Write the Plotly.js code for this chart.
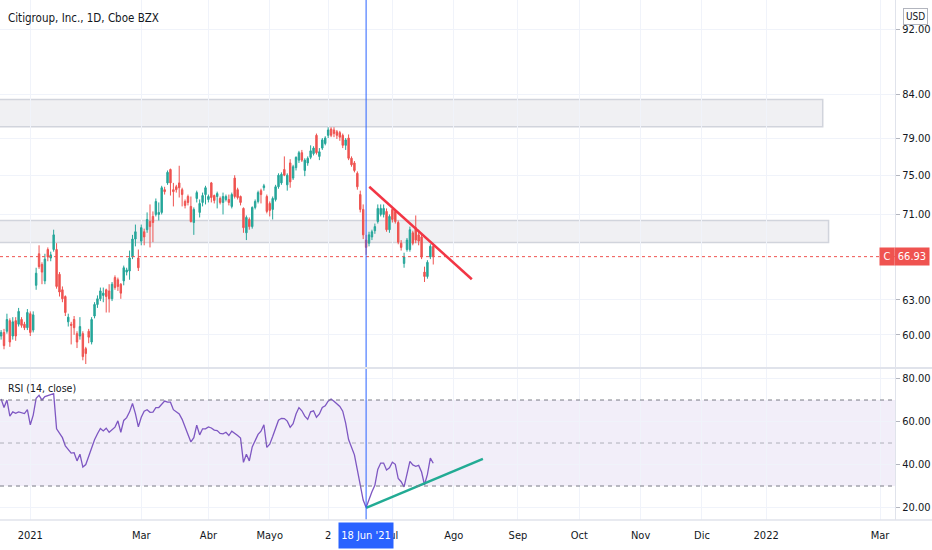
<!DOCTYPE html>
<html><head><meta charset="utf-8">
<script src="https://cdn.plot.ly/plotly-3.0.1.min.js"></script>
<style>html,body{margin:0;padding:0;background:#fff}</style>
</head><body><div id="chart" style="width:932px;height:550px"></div>
<script>
// ---------- data ----------
const firstSession = '2020-12-17';
const marketHolidays = ['2020-12-25','2021-01-01','2021-01-18','2021-02-15','2021-04-02','2021-05-31','2021-07-05','2021-09-06','2021-11-25','2021-12-24','2022-01-17','2022-02-21'];

const opens = [59.9,60.2,60.3,61.2,59.9,61.2,60.9,61.3,60.9,60.6,
61.8,60.4,64.3,67.2,66.2,64.7,67.6,66.8,67.6,67.6,
65.3,63.9,63.3,61.1,60.9,61.3,60.1,59.9,60.1,58.85,
60.3,59.4,61.6,62.6,63.1,63.4,63.9,63.8,63.1,65.0,
64.8,64.4,64.7,65.5,65.6,66.9,68.6,66.8,68.4,69.3,
69.5,70.3,70.8,71.0,71.0,71.2,73.5,74.2,75.6,73.5,
73.8,74.2,73.5,72.3,72.8,71.8,70.2,72.6,71.2,72.2,
73.0,72.5,74.2,72.9,72.8,72.6,72.2,72.5,72.5,71.8,
74.7,73.5,72.8,71.6,69.2,70.5,69.8,71.7,72.3,73.4,
73.7,72.8,72.1,71.5,72.5,73.8,74.2,75.6,74.0,76.3,
74.7,75.8,76.6,77.4,75.5,76.3,76.9,77.3,79.3,77.0,
77.9,78.4,79.3,80.0,79.9,79.7,79.6,79.3,78.2,79.0,
76.8,76.3,75.2,73.0,71.5,68.5,68.2,68.8,69.4,70.3,
71.0,71.0,71.3,69.5,71.5,71.3,70.2,68.2,66.3,67.6,
67.6,69.2,69.7,69.0,68.8,65.5,65.1,66.9,67.9];
const highs = [60.4,60.5,61.8,61.4,61.5,61.5,62.3,61.5,61.1,62.2,
62.0,62.0,65.9,68.0,66.4,67.2,67.8,67.4,69.5,68.2,
65.5,64.2,63.4,61.8,61.1,61.6,60.3,61.5,60.3,59.0,
60.5,61.5,62.8,63.4,64.1,64.1,64.0,64.4,64.6,65.2,
65.0,64.5,66.1,65.9,67.5,69.0,70.0,67.6,70.0,69.6,
71.2,72.0,71.3,72.6,72.2,73.9,73.8,75.5,75.7,74.2,
74.0,76.0,73.7,72.5,73.0,72.8,71.7,73.4,72.5,73.2,
73.9,73.0,74.3,73.0,73.3,72.8,73.2,73.0,73.0,73.2,
75.0,73.7,72.9,71.7,70.9,70.7,71.8,72.5,73.4,73.6,
74.1,73.0,72.3,72.8,74.0,75.2,75.3,77.0,75.2,76.7,
76.1,77.0,77.6,77.7,76.8,77.0,78.2,78.1,79.5,77.9,
79.0,79.2,80.2,80.2,80.2,79.9,79.8,79.5,79.0,79.4,
77.0,76.5,75.4,73.4,72.0,69.0,69.3,69.5,70.1,72.0,
72.0,72.0,71.6,71.0,71.6,71.5,70.4,68.5,67.3,68.7,
69.8,69.4,70.9,69.5,69.2,66.0,66.6,68.1,68.2];
const lows = [59.6,58.8,60.1,59.0,59.6,59.5,60.7,60.6,60.4,60.4,
59.9,60.2,63.9,65.8,64.4,64.4,66.5,66.5,67.4,64.0,
63.3,62.8,61.6,60.7,59.2,60.0,58.9,59.6,57.9,57.6,
59.3,59.2,61.4,62.3,62.9,62.8,61.9,61.9,62.9,63.9,
63.8,63.1,64.3,65.2,64.8,66.7,67.9,65.6,68.0,68.0,
69.2,67.8,68.3,70.8,70.4,71.0,73.0,74.0,72.9,71.8,
73.2,72.7,71.8,71.6,71.9,70.2,69.0,72.2,70.7,71.8,
72.0,72.2,72.2,72.1,71.6,72.0,71.0,72.3,71.9,71.6,
72.6,72.5,71.9,69.2,68.5,69.5,69.6,71.5,72.1,72.1,
73.4,71.1,70.8,70.5,72.3,73.6,74.0,74.9,73.4,73.7,
74.5,75.5,76.3,76.4,74.9,76.0,76.7,77.1,77.2,76.6,
77.7,78.2,79.0,79.1,79.1,78.9,78.7,77.9,77.7,76.6,
75.9,75.3,73.5,71.2,68.6,67.1,67.9,68.5,69.1,70.1,
70.8,70.7,69.3,69.2,70.2,70.1,68.1,67.5,65.9,67.4,
67.4,68.0,68.2,68.0,66.7,64.6,64.9,66.7,66.2];
const closes = [60.2,59.1,61.3,59.4,61.1,59.9,62.0,60.8,60.6,61.9,
60.2,61.7,65.4,66.0,65.5,66.7,66.9,67.1,69.0,64.2,
63.7,63.1,61.9,61.5,60.8,60.6,59.4,60.7,58.2,58.45,
59.8,61.3,62.6,63.1,63.8,63.6,63.3,63.1,64.4,64.1,
64.2,63.6,65.9,65.7,66.8,68.6,69.3,65.9,69.7,68.8,
70.5,69.8,70.2,72.3,71.2,73.7,73.3,75.3,74.2,73.3,
73.5,73.7,73.0,71.9,72.2,70.3,71.5,73.2,72.1,72.9,
73.7,72.8,72.7,72.4,73.1,72.2,72.8,72.8,72.2,73.0,
72.8,72.7,72.2,69.7,70.7,69.8,71.7,72.3,73.2,73.0,
73.9,71.3,71.4,72.6,73.8,75.0,75.1,75.0,75.0,74.3,
75.9,76.9,77.4,76.6,76.6,76.8,77.6,77.9,77.4,77.5,
78.8,79.0,79.9,79.3,79.5,79.3,79.1,78.2,78.8,76.8,
76.1,75.5,73.8,71.5,69.0,67.8,69.0,69.3,69.8,71.6,
71.6,71.6,69.5,70.8,70.5,70.3,68.3,67.8,66.9,68.5,
69.5,68.2,68.5,68.4,66.9,65.1,66.4,67.9,66.93];
const rsiValues = [70.5,66.5,70,62.5,64.5,63.8,64.5,64.1,63.7,65.5,
58.5,63,70.8,72.2,70,71.6,72,72.5,73,56.6,
54.5,52.5,48.7,47.2,45.3,45.5,41.7,44.8,38.8,40,
43.9,48.5,51.5,54.3,56.8,55.6,56.9,55,56.3,57.4,
60.3,55,60.5,61.8,64.5,68.4,63.7,57.5,62,64.8,
65.5,64.3,64.4,66.5,66.5,68,69.5,69,69,65.5,
64.3,63.5,61,57,54,50.5,52.5,58.3,53.8,56.6,
56.6,57.5,57,56,55.8,54.5,54.3,55,53.5,55.5,
54.6,53.5,52.3,41,44.8,41.7,48.2,51.5,54,55.5,
58.5,48,49.5,53,57,60.6,61.5,61.4,60.2,57.3,
59,63.5,66.5,65,62.5,61,64.5,65,62,63.5,
66.5,67.3,69.5,70.5,69.4,68.4,67,64.8,59.3,51.6,
48,44.5,37.5,30,23.5,20,24,27.3,30.3,37.7,
40.7,40.7,37.5,38.5,41.1,40.1,33.5,32,29.6,36,
41.5,39.8,39.2,39.6,36.5,30.6,35.4,43,40.6];

const priceTicks = [60,63,71,75,79,84,92];
const rsiTicks = [20,40,60,80];
const rsiLevels = [70,50,30];
const axisTickDates = ['2021-01-04','2021-03-01','2021-04-01','2021-05-03','2021-06-01','2021-07-01','2021-08-02','2021-09-01','2021-10-01','2021-11-01','2021-12-01','2022-01-03','2022-03-01'];
const axisTickLabels = ['2021','Mar','Abr','Mayo','2','Jul','Ago','Sep','Oct','Nov','Dic','2022','Mar'];

const zoneTops = [83.39, 70.39];
const zoneBottoms = [80.26, 68.26];
const zoneStarts = ['2020-12-01','2020-12-01'];
const zoneEnds = ['2022-01-31 09:00','2022-02-02 09:00'];

const resistanceX = ['2021-06-21 02:00','2021-08-10 05:00'];
const resistanceY = [73.8, 64.85];
const supportX = ['2021-06-18','2021-08-16'];
const supportY = [19.8, 42.6];
const crosshairDate = '2021-06-18';
const crosshairLabel = "18 Jun '21";
const xRange = ['2020-12-16 15:00','2022-03-08 03:00'];

// ---------- build ----------
function sessions(start, n, hol) {
  const out = []; const d = new Date(start + 'T00:00:00Z');
  while (out.length < n) {
    const s = d.toISOString().slice(0,10), wd = d.getUTCDay();
    if (wd !== 0 && wd !== 6 && hol.indexOf(s) < 0) out.push(s);
    d.setUTCDate(d.getUTCDate() + 1);
  }
  return out;
}
const dates = sessions(firstSession, closes.length, marketHolidays);
const lastClose = closes[closes.length - 1];

const FONT = '"Liberation Sans Narrow","DejaVu Sans Condensed","Roboto Condensed","Arial Narrow","Liberation Sans",sans-serif';
const UP = '#26a69a', DOWN = '#ef5350', TXT = '#131722', GRID = '#f0f3fa', BORDER = '#e0e3eb';

const traces = [];
traces.push({type:'scatter', mode:'lines', xaxis:'x', yaxis:'y',
  x:[xRange[0], xRange[1]], y:[lastClose, lastClose],
  line:{color:DOWN, width:1, dash:'dot'}, hoverinfo:'skip', showlegend:false});
traces.push({type:'candlestick', xaxis:'x', yaxis:'y', x:dates,
  open:opens, high:highs, low:lows, close:closes,
  increasing:{line:{color:UP, width:1}, fillcolor:UP},
  decreasing:{line:{color:DOWN, width:1}, fillcolor:DOWN},
  whiskerwidth:0, showlegend:false, hoverinfo:'skip'});
traces.push({type:'scatter', mode:'lines', xaxis:'x', yaxis:'y',
  x:resistanceX, y:resistanceY, line:{color:'#f23645', width:2.5}, hoverinfo:'skip', showlegend:false});
traces.push({type:'scatter', mode:'lines', xaxis:'x', yaxis:'y2',
  x:dates, y:rsiValues, line:{color:'#7e57c2', width:1.3}, hoverinfo:'skip', showlegend:false});
traces.push({type:'scatter', mode:'lines', xaxis:'x', yaxis:'y2',
  x:supportX, y:supportY, line:{color:'#22ab94', width:2.5}, hoverinfo:'skip', showlegend:false});

const splitFrac = 152/520;
const shapes = [];
for (let k = 0; k < zoneTops.length; k++) {
  shapes.push({type:'rect', xref:'x', yref:'y', x0:zoneStarts[k], x1:zoneEnds[k], y0:zoneBottoms[k], y1:zoneTops[k],
    fillcolor:'#f0f0f3', line:{color:'#d1d4dc', width:1.5}, layer:'below'});
}
shapes.push({type:'rect', xref:'paper', x0:0, x1:1, yref:'y2', y0:30, y1:70, fillcolor:'rgba(126,87,194,0.1)', line:{width:0}, layer:'below'});
rsiLevels.forEach((v,i) => shapes.push({type:'line', xref:'paper', x0:0, x1:1, yref:'y2', y0:v, y1:v,
  line:{color: i===1 ? 'rgba(120,123,134,0.55)' : '#787b86', width:1, dash:'4px,4px'}}));
shapes.push({type:'line', xref:'x', x0:crosshairDate, x1:crosshairDate, yref:'paper', y0:0, y1:1, line:{color:'#2962ff', width:1}});
shapes.push({type:'line', xref:'paper', x0:0, x1:1.05, yref:'paper', y0:splitFrac, y1:splitFrac, line:{color:BORDER, width:2}});
shapes.push({type:'line', xref:'paper', x0:0, x1:1.05, yref:'paper', y0:0, y1:0, line:{color:BORDER, width:1.5}});

const annotations = [
  {xref:'paper', yref:'paper', x:6/895, y:1-18/520, xanchor:'left', yanchor:'middle', showarrow:false,
   text:'Citigroup, Inc., 1D, Cboe BZX', font:{family:FONT, size:11.5, color:TXT}},
  {xref:'paper', yref:'paper', x:6/895, y:(520-388)/520, xanchor:'left', yanchor:'middle', showarrow:false,
   text:'RSI (14, close)', font:{family:FONT, size:10.5, color:TXT}},
  {xref:'paper', yref:'paper', x:915/895, y:(520-17)/520, xanchor:'center', yanchor:'middle', showarrow:false,
   text:'USD', font:{family:FONT, size:10, color:TXT}, bgcolor:'#ffffff', bordercolor:'#b2b5be', borderwidth:1, borderpad:2},
  {xref:'paper', yref:'y', x:886.7/895, y:Math.log10(lastClose), xanchor:'center', yanchor:'middle', showarrow:false,
   text:'C', width:12, height:15, font:{family:FONT, size:11, color:'#ffffff'}, bgcolor:DOWN, borderpad:1},
  {xref:'paper', yref:'y', x:912/895, y:Math.log10(lastClose), xanchor:'center', yanchor:'middle', showarrow:false,
   text:lastClose.toFixed(2), width:32, height:15, font:{family:FONT, size:11, color:'#ffffff'}, bgcolor:DOWN, borderpad:1},
  {xref:'x', yref:'paper', x:crosshairDate, y:-15.5/520, xanchor:'center', yanchor:'middle', showarrow:false,
   text:crosshairLabel, width:52, height:23, font:{family:FONT, size:11, color:'#ffffff'}, bgcolor:'#2962ff', borderpad:1}
];

const layout = {
  width:932, height:550, margin:{l:0, r:37, t:0, b:30},
  paper_bgcolor:'#ffffff', plot_bgcolor:'#ffffff', showlegend:false,
  font:{family:FONT, size:11, color:TXT},
  xaxis:{type:'date', range:xRange, anchor:'y2',
    rangebreaks:[{bounds:['sat','mon']}, {values:marketHolidays}],
    rangeslider:{visible:false}, tickmode:'array', tickvals:axisTickDates, ticktext:axisTickLabels,
    showgrid:true, gridcolor:GRID, gridwidth:1, zeroline:false, showline:false,
    ticks:'outside', ticklen:5, tickcolor:'rgba(0,0,0,0)', tickfont:{family:FONT, size:11, color:TXT}},
  yaxis:{type:'log', domain:[splitFrac, 1], range:[1.75801, 1.98146], side:'right', anchor:'x',
    tickmode:'array', tickvals:priceTicks, ticktext:priceTicks.map(v => v.toFixed(2)),
    showgrid:true, gridcolor:GRID, zeroline:false, showline:true, linecolor:BORDER, linewidth:1,
    ticks:'outside', ticklen:4, tickcolor:'#b2b5be', tickfont:{family:FONT, size:11, color:TXT}},
  yaxis2:{type:'linear', domain:[0, splitFrac], range:[14.2, 84.9], side:'right', anchor:'x',
    tickmode:'array', tickvals:rsiTicks, ticktext:rsiTicks.map(v => v.toFixed(2)),
    showgrid:true, gridcolor:GRID, zeroline:false, showline:true, linecolor:BORDER, linewidth:1,
    ticks:'outside', ticklen:4, tickcolor:'#b2b5be', tickfont:{family:FONT, size:11, color:TXT}},
  shapes:shapes, annotations:annotations
};
Plotly.newPlot('chart', traces, layout, {displayModeBar:false, staticPlot:true});
</script></body></html>
